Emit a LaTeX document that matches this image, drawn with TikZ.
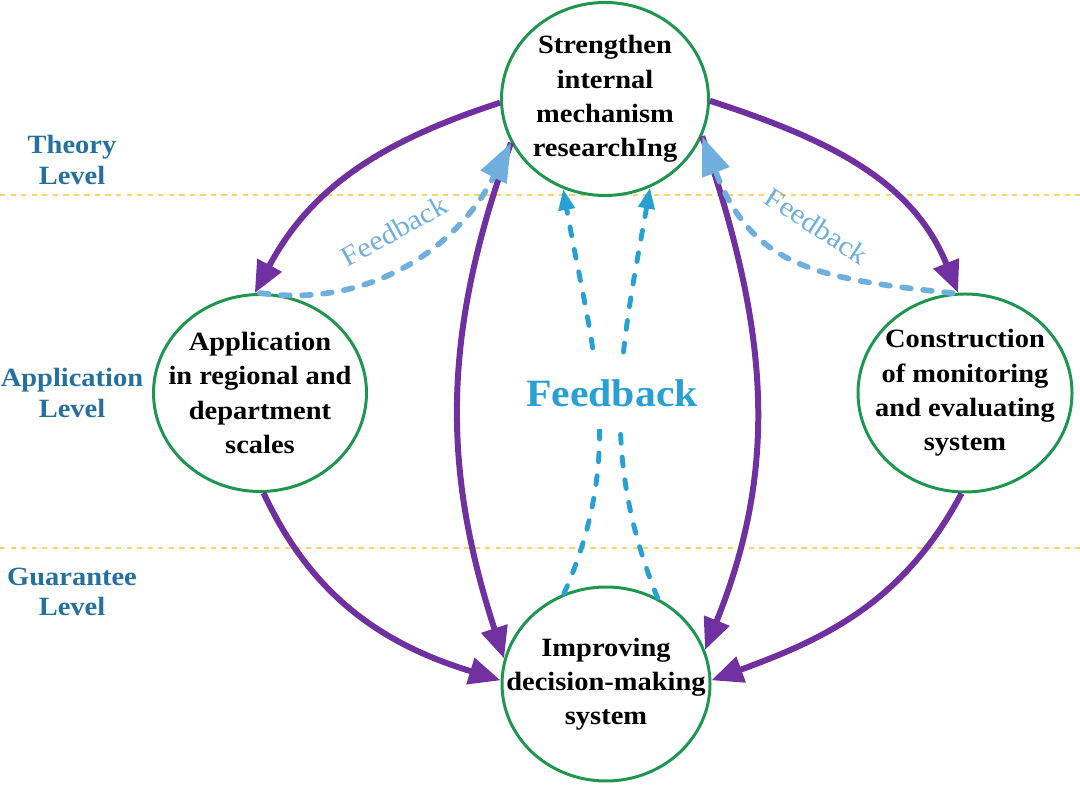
\documentclass[tikz,border=0pt]{standalone}
\usepackage{fontspec}
\setmainfont{Liberation Serif}[FakeStretch=1.08]
\usetikzlibrary{arrows.meta,shapes.geometric}
\definecolor{cpurple}{RGB}{112,48,160}
\definecolor{cgreen}{RGB}{30,150,80}
\definecolor{fbside}{RGB}{110,175,222}
\definecolor{fbblue}{RGB}{40,160,212}
\definecolor{lvltext}{RGB}{38,112,160}
\definecolor{cyellow}{RGB}{250,212,105}
\tikzstyle{stage}=[ellipse, draw=cgreen, line width=1.7pt, inner sep=0pt]
\tikzstyle{stagetext}=[align=center, inner sep=0pt,
    font=\bfseries\fontsize{15}{19.5}\selectfont]
\tikzstyle{lvl}=[align=center, text=lvltext,
    font=\bfseries\fontsize{15}{17.5}\selectfont]
\tikzstyle{flow}=[draw=cpurple, line width=3.4pt,
    -{Triangle[length=18pt,width=15pt]}]
\tikzstyle{fback}=[draw=fbside, line width=3.2pt, dash pattern=on 5pt off 7pt,
    line cap=round, -{Triangle[length=22pt,width=16pt]}]
\tikzstyle{fbcentre}=[draw=fbblue, line width=2.8pt, dash pattern=on 5pt off 8pt,
    line cap=round, -{Triangle[length=12pt,width=9pt]}]
\tikzstyle{fbtag}=[text=fbside, inner sep=1pt, font=\fontsize{16}{18}\selectfont]
\begin{document}
\begin{tikzpicture}
  \useasboundingbox (0,0) rectangle (21.6,15.74);
  % level separators
  \draw[cyellow, line width=1.2pt, dash pattern=on 3pt off 3pt] (0,11.84) -- (21.6,11.84);
  \draw[cyellow, line width=1.2pt, dash pattern=on 3pt off 3pt] (0,4.78) -- (21.6,4.78);

  \node[lvl] at (1.44,12.54) (theory) {Theory\\Level};
  \node[lvl] at (1.44,7.88) (applvl) {Application\\Level};
  \node[lvl] at (1.44,3.90) (guarlvl) {Guarantee\\Level};

  \node[stage, minimum width=4.14cm, minimum height=3.86cm] at (12.10,13.76) (sim) {};
  \node[stagetext] at (sim) (simtext) {Strengthen\\internal\\mechanism\\researchIng};
  \node[stage, minimum width=4.26cm, minimum height=3.94cm] at (5.20,7.88) (app) {};
  \node[stagetext] at (app) (apptext) {Application\\in regional and\\department\\scales};
  \node[stage, minimum width=4.28cm, minimum height=3.96cm] at (19.30,7.88) (mon) {};
  \node[stagetext] at (mon) (montext) {Construction\\of monitoring\\and evaluating\\system};
  \node[stage, minimum width=4.16cm, minimum height=3.88cm] at (12.12,2.06) (dm) {};
  \node[stagetext] at (dm) (dmtext) {Improving\\decision-making\\system};

  \draw[flow] (sim.182) to[out=198,in=62] (app.93);
  \draw[flow] (sim.-1) to[out=-18,in=112] (mon.94);
  \draw[flow] (app.-88) to[out=-65,in=163] (dm.178);
  \draw[flow] (mon.-92) to[out=-118,in=20] (dm.2);
  \draw[flow] (sim.205) to[out=250,in=108] (dm.166);
  \draw[flow] (sim.339) to[out=289,in=68] (dm.19);

  \draw[fback] (app.90) to[out=-8,in=243] (sim.205);
  \draw[fback] (mon.97) to[out=174,in=291,looseness=1.2] (sim.339);
  \node[fbtag, rotate=29] at (7.88,11.12) (fbleft) {Feedback};
  \node[fbtag, rotate=-33] at (16.34,11.22) (fbright) {Feedback};

  \draw[fbcentre] (dm.115) to[out=66,in=-80] (sim.245);
  \draw[fbcentre] (dm.59) to[out=112,in=-100] (sim.297);
  \node[fill=white, text=fbblue, minimum height=1.45cm, inner xsep=2pt,
    font=\bfseries\fontsize{22}{26}\selectfont] at (12.24,7.88) (fbmid) {Feedback};
\end{tikzpicture}
\end{document}
